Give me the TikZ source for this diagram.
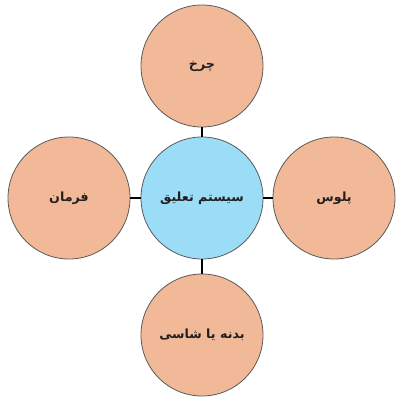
\documentclass[tikz,border=0pt]{standalone}
\usepackage{fontspec}
\newfontfamily\arabicfont[Script=Arabic]{DejaVu Sans}
\TeXXeTstate=1
\definecolor{partfill}{HTML}{F1B998}
\definecolor{hubfill}{HTML}{9BDDF6}
\definecolor{rimcol}{HTML}{5A5A5A}
\definecolor{inkcol}{HTML}{231F20}
\begin{document}
\begin{tikzpicture}[x=0.75pt,y=-0.75pt,
	part/.style={circle,draw=rimcol,fill=partfill,line width=0.6pt,minimum size=91.5pt,inner sep=0pt,text=inkcol,font=\arabicfont\bfseries\fontsize{9.5}{11}\selectfont},
	hub/.style={part,fill=hubfill}]
\useasboundingbox (0,0) rectangle (403,402);
\node[hub] (taliq) at (202,198) {\beginR سیستم تعلیق\endR};
\node[part] (charkh) at (202,66) {\beginR چرخ\endR};
\node[part] (badaneh) at (202,335) {\beginR بدنه یا شاسی\endR};
\node[part] (farman) at (69,198) {\beginR فرمان\endR};
\node[part] (polus) at (334,198) {\beginR پلوس\endR};
\foreach \p in {charkh,badaneh,farman,polus}
{
	\draw[line width=0.9pt] (taliq) -- (\p);
}
\end{tikzpicture}
\end{document}
